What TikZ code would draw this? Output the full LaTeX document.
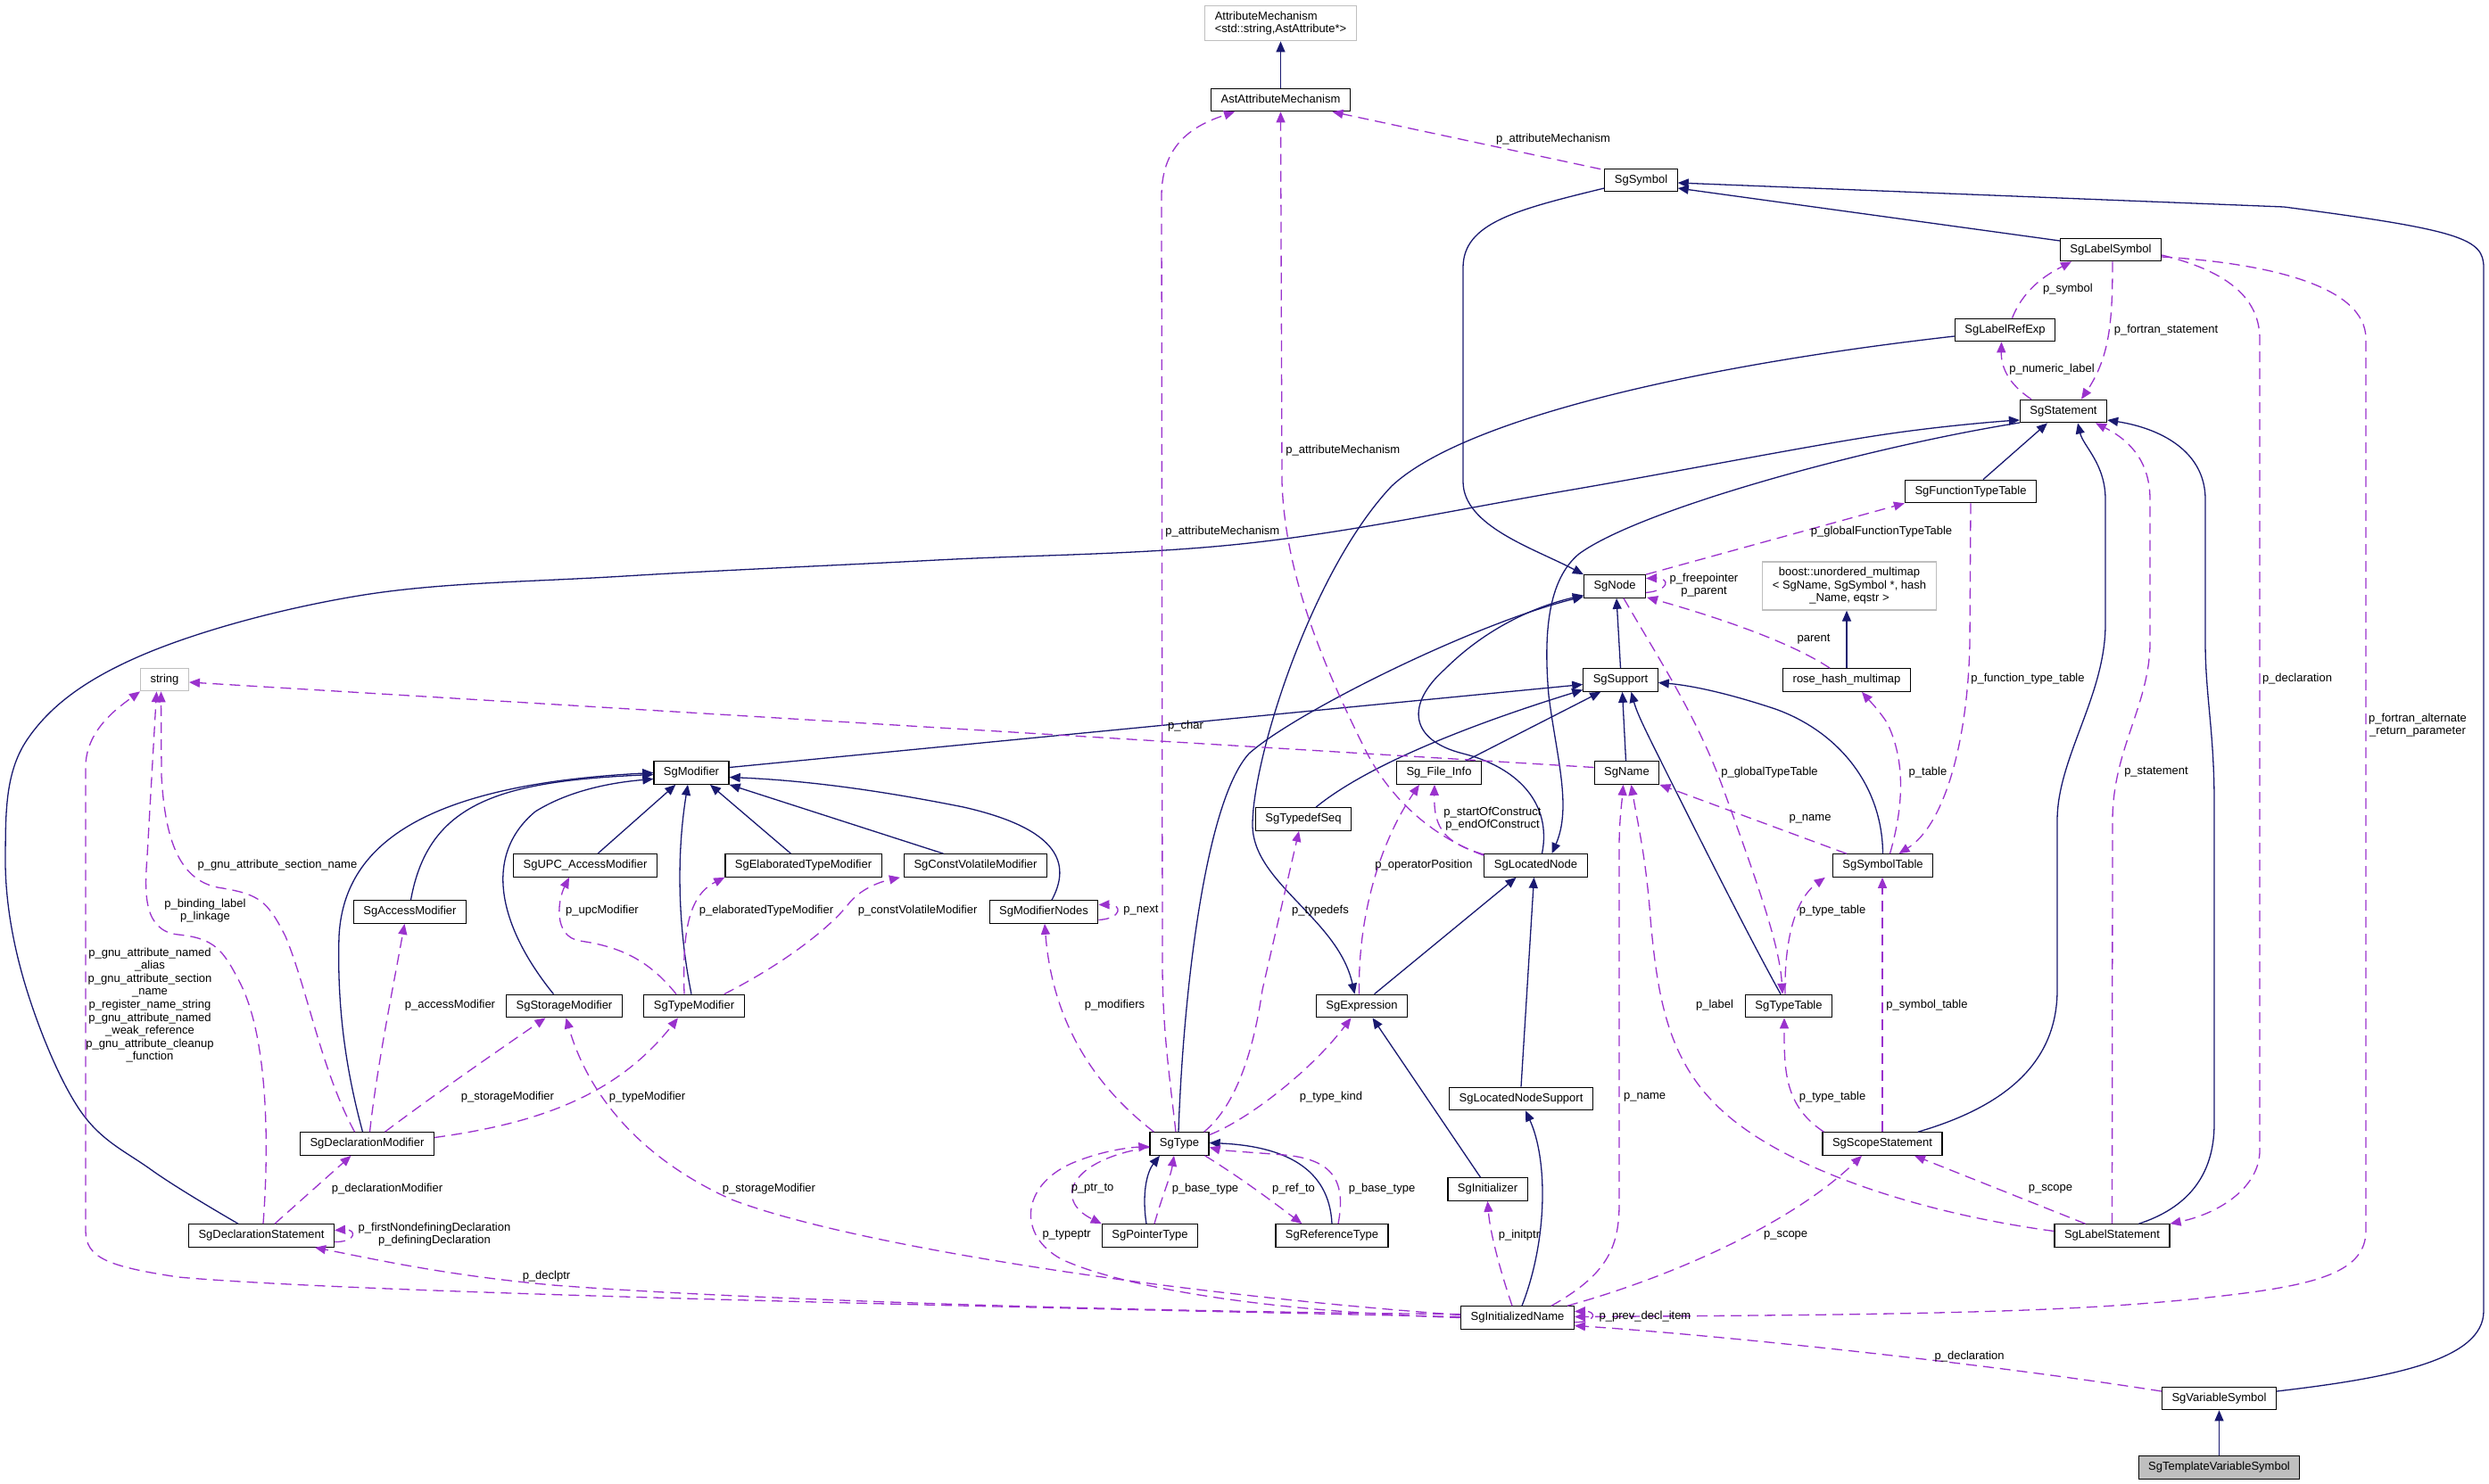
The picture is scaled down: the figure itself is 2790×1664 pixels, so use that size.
\documentclass[tikz,border=0pt]{standalone}
\usepackage{fontspec}
\setmainfont{Liberation Sans}
\usetikzlibrary{arrows.meta,calc}
\definecolor{navy}{RGB}{25,25,112}
\definecolor{purp}{RGB}{154,50,205}
\definecolor{extgray}{RGB}{191,191,191}
\definecolor{tgray}{RGB}{191,191,191}
\newcommand{\nfont}{\fontsize{6.5pt}{7.3pt}\selectfont}
\begin{document}
\begin{tikzpicture}[x=0.5pt,y=-0.5pt,
  base/.style={draw=black, line width=0.6pt, fill=white, inner xsep=5.5pt, inner ysep=3.2pt, minimum height=12.75pt, font=\nfont},
  cls/.style={base, text height=4.7pt, text depth=1.4pt},
  extn/.style={draw=extgray},
  inh/.style={draw=navy, line width=0.65pt, -{Triangle[length=6pt,width=5pt]}},
  use/.style={draw=purp, line width=0.65pt, dash pattern=on 6pt off 3.5pt, -{Triangle[length=6pt,width=5pt]}},
  lab/.style={font=\nfont, inner sep=0pt, align=center}]
\fill[white] (0,0) rectangle (2790,1664);
\useasboundingbox (0,0) rectangle (2790,1664);

% nodes
\node[base,extn,align=left] (attrmech) at (1435.5,26) {AttributeMechanism\\<std::string,AstAttribute*>};
\node[cls] (astattr) at (1435.5,112) {AstAttributeMechanism};
\node[cls] (sgsymbol) at (1839.5,202) {SgSymbol};
\node[cls] (labelsymbol) at (2366,280) {SgLabelSymbol};
\node[cls] (labelrefexp) at (2247.5,370) {SgLabelRefExp};
\node[cls] (statement) at (2313,461) {SgStatement};
\node[cls] (functypetable) at (2209,551) {SgFunctionTypeTable};
\node[cls] (sgnode) at (1810,657.5) {SgNode};
\node[base,extn,align=center] (boost) at (2073,657) {boost::unordered\_multimap\\< SgName, SgSymbol *, hash\\\_Name, eqstr >};
\node[cls] (support) at (1816.5,762.5) {SgSupport};
\node[cls] (rosehash) at (2070,762.5) {rose\_hash\_multimap};
\node[cls,extn] (string) at (184.5,762) {string};
\node[cls] (modifier) at (775,866.5) {SgModifier};
\node[cls] (fileinfo) at (1613,866.5) {Sg\_File\_Info};
\node[cls] (sgname) at (1823.5,866.5) {SgName};
\node[cls] (typedefseq) at (1461,918.5) {SgTypedefSeq};
\node[cls] (upcaccess) at (656,970.5) {SgUPC\_AccessModifier};
\node[cls] (elaborated) at (900.5,970.5) {SgElaboratedTypeModifier};
\node[cls] (constvol) at (1093.5,970.5) {SgConstVolatileModifier};
\node[cls] (locatednode) at (1721.5,970.5) {SgLocatedNode};
\node[cls] (symboltable) at (2110.5,970.5) {SgSymbolTable};
\node[cls] (accessmod) at (459.5,1022.5) {SgAccessModifier};
\node[cls] (modnodes) at (1170,1022.5) {SgModifierNodes};
\node[cls] (storagemod) at (632.5,1128) {SgStorageModifier};
\node[cls] (typemod) at (778,1128) {SgTypeModifier};
\node[cls] (expression) at (1526.5,1128) {SgExpression};
\node[cls] (typetable) at (2005,1128) {SgTypeTable};
\node[cls] (locnodesupport) at (1705,1232) {SgLocatedNodeSupport};
\node[cls] (declmod) at (411.5,1282.5) {SgDeclarationModifier};
\node[cls] (sgtype) at (1322,1282.5) {SgType};
\node[cls] (scopestmt) at (2110,1282.5) {SgScopeStatement};
\node[cls] (initializer) at (1667.5,1333.5) {SgInitializer};
\node[cls] (declstmt) at (293,1385.5) {SgDeclarationStatement};
\node[cls] (pointertype) at (1289,1385.5) {SgPointerType};
\node[cls] (reftype) at (1493,1385.5) {SgReferenceType};
\node[cls] (labelstmt) at (2367.5,1385.5) {SgLabelStatement};
\node[cls] (initname) at (1701,1477.5) {SgInitializedName};
\node[cls] (varsymbol) at (2487.5,1568) {SgVariableSymbol};
\node[cls,fill=tgray] (tmplvar) at (2487.5,1645.5) {SgTemplateVariableSymbol};

% inheritance edges
\draw[inh] (astattr.north) -- (attrmech.south);
\draw[inh] ($(labelsymbol.west)+(0,-10)$) -- ($(sgsymbol.east)+(0,9)$);
\draw[inh] ($(varsymbol.east)+(0,-8)$) .. controls (2680,1545) and (2784,1525) .. (2784,1470) -- (2784,300) .. controls (2784,268) and (2760,258) .. (2560,232) -- ($(sgsymbol.east)+(0,3)$);
\draw[inh] (tmplvar.north) -- (varsymbol.south);
\draw[inh] ($(sgsymbol.west)+(0,9)$) .. controls (1700,235) and (1640,250) .. (1640,300) -- (1640,540) .. controls (1640,590) and (1720,615) .. (sgnode.north west);
\draw[inh] ($(labelrefexp.west)+(0,7)$) .. controls (1900,410) and (1640,470) .. (1560,545) .. controls (1470,640) and (1404,850) .. (1404,925) .. controls (1404,990) and (1500,1030) .. ($(expression.north)+(-8,0)$);
\draw[inh] ($(functypetable.north)+(14,0)$) -- ($(statement.south)+(-18,0)$);
\draw[inh] ($(scopestmt.north)+(40,0)$) .. controls (2250,1240) and (2306,1190) .. (2306,1110) -- (2306,920) .. controls (2306,850) and (2360,780) .. (2360,700) -- (2360,560) .. controls (2360,520) and (2335,500) .. ($(statement.south)+(16,0)$);
\draw[inh] ($(labelstmt.north)+(30,0)$) .. controls (2450,1355) and (2482,1320) .. (2482,1260) -- (2482,900) .. controls (2482,820) and (2472,780) .. (2472,720) -- (2472,560) .. controls (2472,505) and (2420,480) .. ($(statement.east)+(0,10)$);
\draw[inh] plot[smooth, tension=0.6] coordinates {($(declstmt.north)+(-26,0)$) (170,1312) (89,1244) (27,1100) (6,960) (30,830) (156,736) (402,668) (700,646) (1050,628) (1400,609) (1757,550) (2100,489) ($(statement.west)+(0,10)$)};
\draw[inh] ($(statement.west)+(0,13)$) .. controls (2100,500) and (1840,570) .. (1770,621) .. controls (1735,650) and (1730,710) .. (1736,780) .. controls (1745,850) and (1762,905) .. ($(locatednode.north)+(18,0)$);
\draw[inh] ($(expression.north)+(14,0)$) -- ($(locatednode.south)+(-22,0)$);
\draw[inh] (locnodesupport.north) -- ($(locatednode.south)+(-2,0)$);
\draw[inh] ($(initializer.north)+(-8,0)$) -- ($(expression.south)+(12,0)$);
\draw[inh] ($(initname.north)+(5,0)$) .. controls (1735,1390) and (1735,1300) .. ($(locnodesupport.south)+(5,0)$);
\draw[inh] ($(locatednode.north)+(7,0)$) .. controls (1740,900) and (1700,860) .. (1640,845) .. controls (1580,830) and (1575,790) .. (1620,750) .. controls (1665,705) and (1720,680) .. ($(sgnode.west)+(0,10)$);
\draw[inh] (support.north) -- ($(sgnode.south)+(2,0)$);
\draw[inh] ($(sgname.north)+(-1,0)$) -- ($(support.south)+(2,0)$);
\draw[inh] ($(fileinfo.north)+(30,0)$) -- ($(support.south west)+(20,0)$);
\draw[inh] ($(typedefseq.north)+(14,0)$) .. controls (1530,860) and (1640,815) .. ($(support.west)+(0,11)$);
\draw[inh] ($(modifier.east)+(0,-6)$) -- ($(support.west)+(0,5)$);
\draw[inh] ($(typetable.north)+(-9,0)$) .. controls (1960,1050) and (1900,930) .. (1870,870) .. controls (1845,820) and (1835,800) .. ($(support.south)+(12,0)$);
\draw[inh] (symboltable.north) .. controls (2110,880) and (2060,820) .. (1990,795) .. controls (1930,775) and (1890,768) .. ($(support.east)+(0,3)$);
\draw[inh] (rosehash.north) -- (rosehash.north |- boost.south);
\draw[inh] ($(sgtype.north)+(-1,0)$) .. controls (1326,1120) and (1350,900) .. (1400,845) .. controls (1450,800) and (1650,700) .. ($(sgnode.south west)+(0,-2)$);
\draw[inh] ($(pointertype.north)+(-4,0)$) .. controls (1280,1340) and (1285,1315) .. ($(sgtype.south)+(-22,0)$);
\draw[inh] (reftype.north) .. controls (1490,1310) and (1440,1285) .. ($(sgtype.east)+(0,-1)$);
\draw[inh] ($(accessmod.north)+(1,0)$) .. controls (480,900) and (560,876) .. ($(modifier.west)+(0,2)$);
\draw[inh] ($(declmod.north)+(-5,0)$) .. controls (385,1190) and (378,1120) .. (380,1050) .. controls (385,950) and (470,880) .. (modifier.west);
\draw[inh] ($(storagemod.north)+(-12,0)$) .. controls (560,1040) and (540,960) .. (600,910) .. controls (640,885) and (690,877) .. ($(modifier.west)+(0,7)$);
\draw[inh] ($(upcaccess.north)+(14,0)$) -- ($(modifier.south west)+(25,0)$);
\draw[inh] ($(typemod.north)+(-3,0)$) .. controls (760,1040) and (758,960) .. ($(modifier.south)+(-4,0)$);
\draw[inh] ($(elaborated.north)+(-14,0)$) -- ($(modifier.south)+(21,0)$);
\draw[inh] ($(constvol.north)+(-36,0)$) -- (modifier.south east);
\draw[inh] ($(modnodes.north)+(9,0)$) .. controls (1200,970) and (1190,930) .. (1080,905) .. controls (980,885) and (900,875) .. ($(modifier.east)+(0,5)$);

% usage edges
\draw[use] ($(sgsymbol.north west)+(-4,1)$) -- ($(astattr.south)+(58,0)$);
\draw[use] ($(sgtype.north)+(-4,0)$) .. controls (1310,1200) and (1303,1150) .. (1303,1080) -- (1302,220) .. controls (1302,160) and (1340,140) .. ($(astattr.south west)+(27,0)$);
\draw[use] ($(locatednode.north west)+(0,2)$) .. controls (1610,940) and (1560,900) .. (1530,840) .. controls (1480,740) and (1440,640) .. (1437,540) -- (astattr.south);
\draw[use] ($(sgname.west)+(0,-6)$) -- ($(string.east)+(0,3)$);
\draw[use] ($(declmod.north)+(-14,0)$) .. controls (360,1200) and (345,1110) .. (320,1050) .. controls (300,1010) and (290,1003) .. (250,996) .. controls (200,990) and (185,940) .. (181,870) -- ($(string.south)+(-4,0)$);
\draw[use] ($(declstmt.north)+(2,0)$) .. controls (302,1280) and (300,1160) .. (268,1100) .. controls (250,1065) and (240,1052) .. (200,1048) .. controls (160,1044) and (162,1000) .. (165,960) -- ($(string.south)+(-9,0)$);
\draw[use] ($(initname.west)+(0,-1)$) .. controls (1100,1465) and (400,1450) .. (200,1432) .. controls (120,1420) and (96,1410) .. (96,1380) -- (96,860) .. controls (96,820) and (130,795) .. (string.south west);
\draw[use] ($(declstmt.east)+(0,7)$) .. controls (400,1393) and (400,1378) .. ($(declstmt.east)+(0,-6)$);
\draw[use] ($(declstmt.north)+(15,0)$) -- ($(declmod.south)+(-18,0)$);
\draw[use] ($(declmod.north)+(3,0)$) .. controls (422,1200) and (440,1110) .. ($(accessmod.south)+(-6,0)$);
\draw[use] ($(declmod.north)+(20,0)$) .. controls (490,1225) and (570,1170) .. ($(storagemod.south)+(-21,0)$);
\draw[use] ($(declmod.east)+(0,-7)$) .. controls (600,1260) and (690,1230) .. ($(typemod.south)+(-18,0)$);
\draw[use] ($(typemod.north)+(-20,0)$) .. controls (730,1080) and (700,1062) .. (650,1055) .. controls (620,1050) and (625,1010) .. ($(upcaccess.south)+(-18,0)$);
\draw[use] ($(typemod.north)+(-11,0)$) .. controls (765,1050) and (770,1005) .. (elaborated.south west);
\draw[use] ($(typemod.north east)+(-23,0)$) .. controls (880,1080) and (930,1040) .. (950,1015) .. controls (965,995) and (990,988) .. ($(constvol.south west)+(-4,0)$);
\draw[use] ($(modnodes.east)+(0,9)$) .. controls (1258,1030) and (1258,1014) .. ($(modnodes.east)+(0,-8)$);
\draw[use] ($(sgtype.north west)+(5,0)$) .. controls (1230,1220) and (1180,1150) .. ($(modnodes.south)+(1,0)$);
\draw[use] ($(sgtype.north east)+(-6,0)$) .. controls (1385,1240) and (1405,1180) .. (1415,1110) -- ($(typedefseq.south)+(-5,0)$);
\draw[use] ($(sgtype.east)+(0,-10)$) .. controls (1400,1255) and (1470,1200) .. ($(expression.south)+(-12,0)$);
\draw[use] ($(sgtype.west)+(0,4)$) .. controls (1200,1300) and (1180,1345) .. (pointertype.north west);
\draw[use] ($(pointertype.north)+(5,0)$) .. controls (1303,1340) and (1312,1320) .. ($(sgtype.south)+(-6,0)$);
\draw[use] ($(sgtype.south east)+(-5,0)$) .. controls (1390,1320) and (1430,1350) .. ($(reftype.north west)+(30,0)$);
\draw[use] ($(reftype.north)+(7,0)$) .. controls (1510,1320) and (1490,1300) .. (1440,1295) .. controls (1400,1292) and (1370,1290) .. ($(sgtype.east)+(0,4)$);
\draw[use] (initname.west) .. controls (1400,1470) and (1250,1440) .. (1190,1412) .. controls (1140,1385) and (1145,1330) .. (1200,1305) .. controls (1230,1292) and (1260,1287) .. ($(sgtype.west)+(0,3)$);
\draw[use] ($(initname.west)+(0,-3)$) .. controls (1300,1450) and (950,1395) .. (820,1345) .. controls (720,1300) and (660,1230) .. ($(storagemod.south)+(2,0)$);
\draw[use] ($(initname.west)+(0,-4)$) .. controls (1200,1470) and (800,1455) .. (620,1441) .. controls (500,1430) and (420,1412) .. ($(declstmt.south)+(60,0)$);
\draw[use] ($(initname.east)+(0,5)$) .. controls (1790,1483) and (1790,1470) .. ($(initname.east)+(0,-7)$);
\draw[use] ($(initname.north)+(-6,0)$) .. controls (1680,1420) and (1670,1380) .. (initializer.south);
\draw[use] ($(initname.north)+(38,0)$) .. controls (1800,1430) and (1815,1400) .. (1815,1350) -- (1815,950) .. controls (1815,920) and (1818,900) .. ($(sgname.south)+(-4,0)$);
\draw[use] ($(initname.north)+(56,0)$) .. controls (1880,1430) and (2010,1370) .. ($(scopestmt.south)+(-23,0)$);
\draw[use] ($(labelstmt.west)+(0,-5)$) .. controls (2150,1360) and (2000,1310) .. (1930,1245) .. controls (1870,1190) and (1858,1120) .. (1850,1030) .. controls (1845,960) and (1835,920) .. ($(sgname.south)+(5,0)$);
\draw[use] ($(labelstmt.north)+(-30,0)$) -- ($(scopestmt.south)+(36,0)$);
\draw[use] (labelstmt.north) -- (2368,920) .. controls (2368,840) and (2410,790) .. (2410,720) -- (2410,560) .. controls (2410,520) and (2390,495) .. ($(statement.south)+(36,0)$);
\draw[use] ($(labelsymbol.east)+(0,6)$) .. controls (2480,300) and (2533,325) .. (2533,380) -- (2533,1290) .. controls (2533,1330) and (2490,1360) .. (labelstmt.north east);
\draw[use] ($(labelsymbol.east)+(0,8)$) .. controls (2540,295) and (2652,320) .. (2652,380) -- (2652,1380) .. controls (2652,1425) and (2600,1440) .. (2500,1452) .. controls (2350,1470) and (2200,1474) .. ($(initname.east)+(0,-1)$);
\draw[use] ($(varsymbol.west)+(0,-8)$) .. controls (2200,1525) and (1900,1495) .. ($(initname.east)+(0,9)$);
\draw[use] ($(labelrefexp.north)+(8,0)$) .. controls (2270,320) and (2300,305) .. ($(labelsymbol.south)+(-44,0)$);
\draw[use] ($(labelsymbol.south)+(2,0)$) .. controls (2368,360) and (2365,400) .. ($(statement.north)+(20,0)$);
\draw[use] ($(statement.north)+(-36,0)$) .. controls (2250,430) and (2243,410) .. ($(labelrefexp.south)+(-4,0)$);
\draw[use] (sgnode.north east) -- (functypetable.south west);
\draw[use] ($(sgnode.east)+(0,7)$) .. controls (1872,662) and (1872,648) .. ($(sgnode.east)+(0,-9)$);
\draw[use] ($(rosehash.north west)+(53,0)$) .. controls (2000,715) and (1900,685) .. ($(sgnode.south east)+(1,-1)$);
\draw[use] ($(sgnode.south)+(10,0)$) .. controls (1860,740) and (1900,800) .. (1930,880) .. controls (1970,990) and (1995,1060) .. ($(typetable.north)+(-7,0)$);
\draw[use] ($(symboltable.north)+(8,0)$) .. controls (2135,900) and (2135,850) .. (2115,810) .. controls (2105,795) and (2095,785) .. ($(rosehash.south)+(17,0)$);
\draw[use] ($(symboltable.north west)+(16,0)$) -- (sgname.south east);
\draw[use] (functypetable.south) -- (2208,720) .. controls (2206,830) and (2180,925) .. ($(symboltable.north)+(18,0)$);
\draw[use] ($(typetable.north)+(-4,0)$) .. controls (2000,1060) and (2010,1010) .. ($(symboltable.south west)+(-8,0)$);
\draw[use] ($(scopestmt.north west)+(2,0)$) .. controls (2000,1240) and (2000,1200) .. ($(typetable.south)+(-5,0)$);
\draw[use] (scopestmt.north) -- (scopestmt.north |- symboltable.south);
\draw[use] ($(locatednode.north west)+(0,1)$) .. controls (1620,945) and (1607,930) .. ($(fileinfo.south)+(-5,0)$);
\draw[use] ($(expression.north)+(-3,0)$) .. controls (1522,1020) and (1550,940) .. ($(fileinfo.south west)+(26,0)$);

% labels
\node[lab] (l01) at (1741,156) {p\_attributeMechanism};
\node[lab,anchor=west] (l02) at (1306,596) {p\_attributeMechanism};
\node[lab,anchor=west] (l03) at (1441,505) {p\_attributeMechanism};
\node[lab] (l04) at (2318,324) {p\_symbol};
\node[lab] (l05) at (2428,370) {p\_fortran\_statement};
\node[lab] (l06) at (2300,414) {p\_numeric\_label};
\node[lab] (l07) at (1910,656) {p\_freepointer\\p\_parent};
\node[lab] (l08) at (2109,596) {p\_globalFunctionTypeTable};
\node[lab] (l09) at (2033,717) {parent};
\node[lab] (l10) at (1983.5,866) {p\_globalTypeTable};
\node[lab] (l11) at (2029,918) {p\_name};
\node[lab] (l12) at (2161,866) {p\_table};
\node[lab] (l13) at (2273,761) {p\_function\_type\_table};
\node[lab] (l14) at (2417,866) {p\_statement};
\node[lab] (l15) at (2575,761) {p\_declaration};
\node[lab] (l16) at (2710,813) {p\_fortran\_alternate\\\_return\_parameter};
\node[lab] (l17) at (1673,918) {p\_startOfConstruct\\p\_endOfConstruct};
\node[lab] (l18) at (1596,970) {p\_operatorPosition};
\node[lab] (l19) at (1480,1021) {p\_typedefs};
\node[lab] (l20) at (2054,1021) {p\_type\_table};
\node[lab] (l21) at (1329,814) {p\_char};
\node[lab] (l22) at (1279,1021) {p\_next};
\node[lab] (l23) at (859,1021) {p\_elaboratedTypeModifier};
\node[lab] (l24) at (1028.6,1021) {p\_constVolatileModifier};
\node[lab] (l25) at (311,970) {p\_gnu\_attribute\_section\_name};
\node[lab] (l26) at (230,1021) {p\_binding\_label\\p\_linkage};
\node[lab] (l27) at (168,1127) {p\_gnu\_attribute\_named\\\_alias\\p\_gnu\_attribute\_section\\\_name\\p\_register\_name\_string\\p\_gnu\_attribute\_named\\\_weak\_reference\\p\_gnu\_attribute\_cleanup\\\_function};
\node[lab] (l28) at (675,1021) {p\_upcModifier};
\node[lab] (l29) at (504.5,1127) {p\_accessModifier};
\node[lab] (l30) at (569,1230.6) {p\_storageModifier};
\node[lab] (l31) at (725.6,1230.6) {p\_typeModifier};
\node[lab] (l32) at (434,1333) {p\_declarationModifier};
\node[lab] (l33) at (487,1384) {p\_firstNondefiningDeclaration\\p\_definingDeclaration};
\node[lab] (l34) at (612.5,1431) {p\_declptr};
\node[lab] (l35) at (862,1333) {p\_storageModifier};
\node[lab] (l36) at (1249.5,1127) {p\_modifiers};
\node[lab] (l37) at (1224.6,1333) {p\_ptr\_to};
\node[lab] (l38) at (1351,1333) {p\_base\_type};
\node[lab] (l39) at (1195.6,1385) {p\_typeptr};
\node[lab] (l40) at (1492,1230.6) {p\_type\_kind};
\node[lab] (l41) at (1450,1333) {p\_ref\_to};
\node[lab] (l42) at (1549,1333) {p\_base\_type};
\node[lab] (l43) at (1703,1385) {p\_initptr};
\node[lab] (l44) at (1843.6,1230.6) {p\_name};
\node[lab] (l45) at (1922,1127) {p\_label};
\node[lab] (l46) at (2054,1230.6) {p\_type\_table};
\node[lab] (l47) at (2001.6,1385) {p\_scope};
\node[lab] (l48) at (1844,1476.6) {p\_prev\_decl\_item};
\node[lab] (l49) at (2160,1127) {p\_symbol\_table};
\node[lab] (l50) at (2298.5,1333) {p\_scope};
\node[lab] (l51) at (2207.6,1521.6) {p\_declaration};
\end{tikzpicture}
\end{document}
